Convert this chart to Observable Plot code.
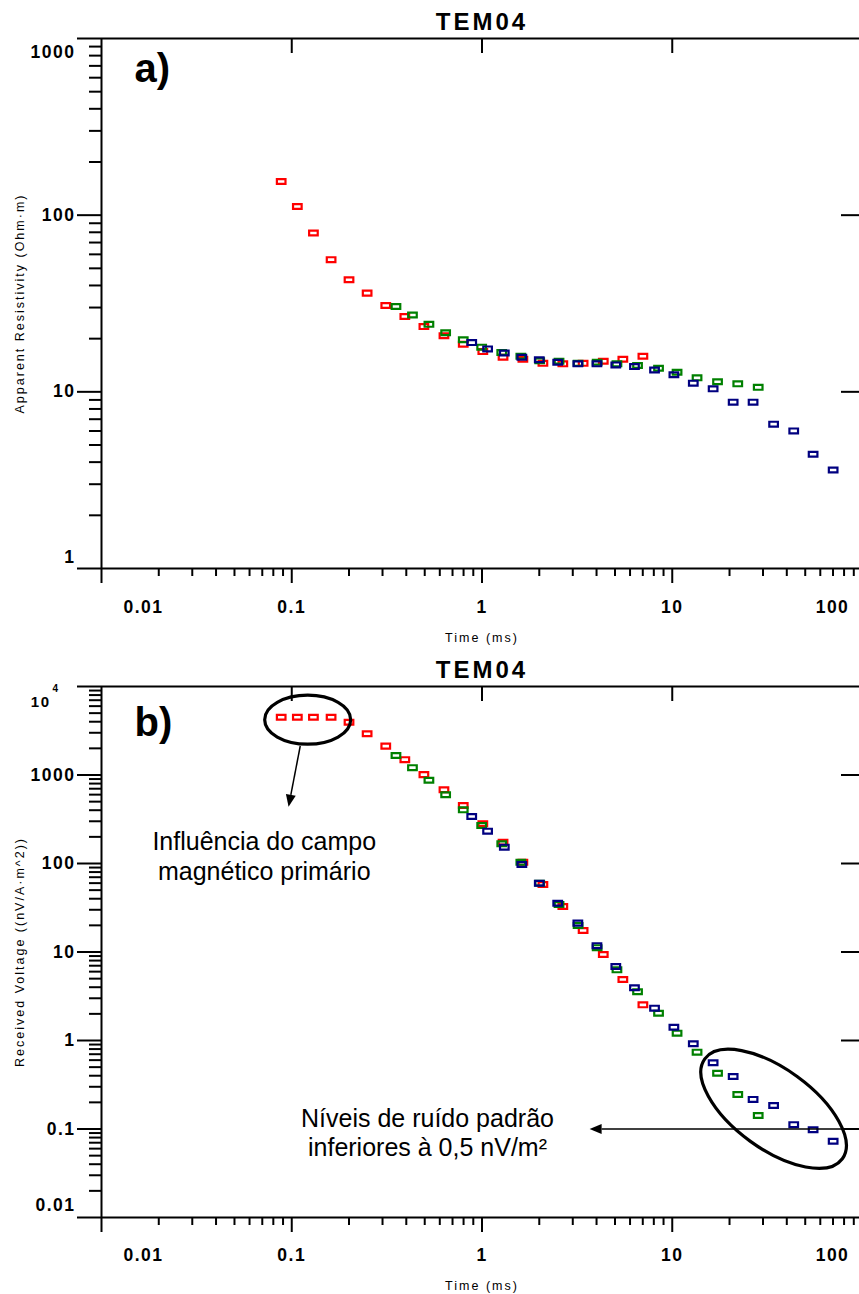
<!DOCTYPE html>
<html>
<head>
<meta charset="utf-8">
<script src="https://cdn.jsdelivr.net/npm/d3@7"></script>
<script src="https://cdn.jsdelivr.net/npm/@observablehq/plot@0.6"></script>
<style>
  html, body { margin: 0; padding: 0; background: #fff; overflow: hidden; }
  #chart svg { display: block; }
</style>
</head>
<body>
<div id="chart"></div>
<script>
// Gate times (ms) of the three soundings
const timeRed   = [0.088, 0.107, 0.130, 0.161, 0.200, 0.249, 0.312, 0.393, 0.495, 0.631, 0.797, 1.01, 1.29, 1.64, 2.09, 2.66, 3.40, 4.34, 5.50, 7.01];
const timeGreen = [0.353, 0.431, 0.526, 0.644, 0.797, 0.996, 1.27, 1.60, 2.01, 2.54, 3.20, 4.03, 5.12, 6.57, 8.47, 10.6, 13.5, 17.3, 22.1, 28.3];
const timeNavy  = [0.883, 1.07, 1.31, 1.62, 2.00, 2.50, 3.19, 4.02, 5.05, 6.33, 8.07, 10.2, 12.9, 16.4, 20.9, 26.6, 34.1, 43.5, 55.0, 70.1];

// a) apparent resistivity (Ohm·m)
const rhoRed   = [155, 112, 79.3, 56.0, 43.1, 36.2, 30.8, 26.7, 23.4, 20.8, 18.6, 16.9, 15.7, 15.3, 14.5, 14.4, 14.5, 14.9, 15.3, 15.9];
const rhoGreen = [30.4, 27.2, 24.1, 21.6, 19.7, 17.9, 16.7, 15.9, 15.0, 14.9, 14.5, 14.7, 14.4, 14.1, 13.6, 12.9, 12.0, 11.4, 11.1, 10.6];
const rhoNavy  = [19.0, 17.5, 16.6, 15.7, 15.2, 14.7, 14.4, 14.4, 14.2, 13.9, 13.3, 12.5, 11.2, 10.4, 8.74, 8.74, 6.56, 6.01, 4.43, 3.61];

// b) received voltage (nV/A·m^2)
const voltRed   = [4500, 4500, 4500, 4500, 3950, 2920, 2120, 1490, 1010, 681, 452, 281, 174, 103, 57.9, 32.7, 17.5, 9.37, 4.89, 2.53];
const voltGreen = [1660, 1210, 873, 598, 404, 269, 167, 103, 59.9, 34.4, 19.9, 11.2, 6.29, 3.55, 2.03, 1.21, 0.738, 0.427, 0.245, 0.142];
const voltNavy  = [340, 232, 153, 97.4, 59.9, 35.6, 21.2, 11.8, 6.86, 3.94, 2.32, 1.41, 0.918, 0.560, 0.392, 0.216, 0.184, 0.112, 0.098, 0.0728];

const seriesColors = ["#ff0000", "#008000", "#000080"];

// Axis ticks and labels
const xTicks = [0.01, 0.1, 1, 10, 100];
const xTickLabels = ["0.01", "0.1", "1", "10", "100"];
const yTicksA = [1, 10, 100, 1000];
const yTickLabelsA = ["1", "10", "100", "1000"];
const yTicksB = [0.01, 0.1, 1, 10, 100, 1000, 10000];
const yTickLabelsB = ["0.01", "0.1", "1", "10", "100", "1000", "10^4"];

const chartTitle = "TEM04";
const xTitle = "Time (ms)";
const yTitleA = "Apparent Resistivity (Ohm·m)";
const yTitleB = "Received Voltage ((nV/A·m^2))";

// Annotations of panel b
const noteText  = ["Influência do campo\nmagnético primário", "Níveis de ruído padrão\ninferiores à 0,5 nV/m²"];
const noteTime  = [0.0717, 0.517];
const noteValue = [242, 0.184];
const ringTime  = [0.122, 34.3];
const ringValue = [4160, 0.167];
const ringShape = [[43, 24.5, 0], [85, 40, 36]]; // rx, ry (px), rotation (deg)
const arrowFrom = [[0.1115, 2100], [100, 0.099]];
const arrowTo   = [[0.0968, 433], [3.70, 0.099]];

const FONT = "'Liberation Sans', Arial, Helvetica, sans-serif";

// Open rectangle marker
const box = {
  draw(context, size) {
    const r = Math.sqrt(size / Math.PI);
    const w = r, h = r * 0.56;
    context.moveTo(-w, -h);
    context.lineTo(w, -h);
    context.lineTo(w, h);
    context.lineTo(-w, h);
    context.closePath();
  }
};

function logMinors(lo, hi) {
  const out = [];
  for (let e = Math.round(Math.log10(lo)); e < Math.round(Math.log10(hi)); e++)
    for (let k = 2; k <= 9; k++) out.push(+(k * Math.pow(10, e)).toPrecision(3));
  return out;
}

const last = (a) => a[a.length - 1];

function panel({height, marginTop, yTicks, yTickLabels, yTitle, tag, tagDy, xLabelDy, xTitleDy, values, topLabelDy, bottomLabelDy, extra = []}) {
  const width = 859, marginLeft = 101, marginRight = -3, marginBottom = 77;
  const frameW = width - marginLeft - marginRight;
  const frameH = height - marginTop - marginBottom;
  const tickFont = {fontFamily: FONT, fontSize: 17.5, fontWeight: "bold"};
  const yRows = yTicks.map((v, i) => ({v, label: yTickLabels[i]}));
  const xRows = xTicks.map((v, i) => ({v, label: xTickLabels[i]}));
  const topRow = last(yRows);
  const [base, exponent] = topRow.label.split("^");
  const yLabelOpts = {y: "v", text: "label", frameAnchor: "left", textAnchor: "end", dx: -26, ...tickFont};
  const xLabelOpts = {x: "v", text: "label", frameAnchor: "bottom", lineAnchor: "middle", dy: xLabelDy, ...tickFont};

  const times = [timeRed, timeGreen, timeNavy];
  const dots = values.map((vals, s) =>
    Plot.dot(times[s].map((t, i) => ({t, v: vals[i]})), {
      x: "t", y: "v", symbol: box, r: 4.3, stroke: seriesColors[s], strokeWidth: 2.2, fill: "none"
    })
  );

  const svg = Plot.plot({
    width, height, marginTop, marginRight, marginBottom, marginLeft,
    x: {type: "log", domain: [xTicks[0], last(xTicks)]},
    y: {type: "log", domain: [yTicks[0], last(yTicks)]},
    style: {fontFamily: FONT, background: "white", color: "black"},
    marks: [
      // frame lines
      Plot.ruleX([xTicks[0]], {strokeWidth: 2}),
      Plot.ruleY([yTicks[0], last(yTicks)], {strokeWidth: 2}),
      // outer ticks
      Plot.axisY(yTicks, {anchor: "left", tickSize: 24, strokeWidth: 2, tickFormat: () => "", label: null}),
      Plot.axisY(logMinors(yTicks[0], last(yTicks)), {anchor: "left", tickSize: 12, strokeWidth: 2, tickFormat: () => "", label: null}),
      Plot.axisX(xTicks, {anchor: "bottom", tickSize: 15, strokeWidth: 2, tickFormat: () => "", label: null}),
      Plot.axisX(logMinors(xTicks[0], last(xTicks)), {anchor: "bottom", tickSize: 8, strokeWidth: 2, tickFormat: () => "", label: null}),
      // inner ticks on the top and right edges
      Plot.tickX(xTicks.slice(1, -1), {x: (d) => d, insetBottom: frameH - 15, strokeWidth: 2}),
      Plot.tickY(yTicks.slice(1, -1), {y: (d) => d, insetLeft: frameW - 21, strokeWidth: 2}),
      // tick labels
      Plot.text(yRows.slice(1, -1), yLabelOpts),
      Plot.text([yRows[0]], {...yLabelOpts, dy: bottomLabelDy}),
      exponent
        ? Plot.text([topRow], {...yLabelOpts, text: () => base, fontSize: 15, dx: -51, dy: topLabelDy})
        : Plot.text([topRow], {...yLabelOpts, dy: topLabelDy}),
      exponent
        ? Plot.text([topRow], {...yLabelOpts, text: () => exponent, textAnchor: "start", fontSize: 10, dx: -49, dy: 2})
        : null,
      Plot.text(xRows.slice(1, -1), xLabelOpts),
      Plot.text([xRows[0]], {...xLabelOpts, dx: 42}),
      Plot.text([last(xRows)], {...xLabelOpts, dx: -30}),
      // titles
      Plot.text([chartTitle], {text: (d) => d, frameAnchor: "top", lineAnchor: "bottom", dy: -9, fontSize: 24, fontWeight: "bold"}),
      Plot.text([xTitle], {text: (d) => d, frameAnchor: "bottom", lineAnchor: "middle", dy: xTitleDy, fontSize: 12.5}),
      Plot.text([yTitle], {text: (d) => d, frameAnchor: "left", rotate: -90, textAnchor: "middle", lineAnchor: "bottom", dx: -78, fontSize: 12.5}),
      Plot.text([tag], {text: (d) => d, frameAnchor: "top-left", textAnchor: "start", lineAnchor: "top", dx: 33, dy: tagDy, fontSize: 40, fontWeight: "bold"}),
      ...dots,
      ...extra
    ]
  });

  // widen the letter spacing of titles and tick labels
  const tickStrings = new Set([...xTickLabels, ...yTickLabels, base, exponent].filter(Boolean));
  d3.select(svg).selectAll("text").each(function () {
    const s = this.textContent;
    if (s === chartTitle) this.style.letterSpacing = "3px";
    else if (s === xTitle || s === yTitle) this.style.letterSpacing = "2px";
    else if (tickStrings.has(s)) this.style.letterSpacing = "1.5px";
  });
  return svg;
}

const plotA = panel({
  height: 645, marginTop: 38,
  yTicks: yTicksA, yTickLabels: yTickLabelsA, yTitle: yTitleA,
  tag: "a)", tagDy: 15, xLabelDy: 39, xTitleDy: 69,
  topLabelDy: 14, bottomLabelDy: -11,
  values: [rhoRed, rhoGreen, rhoNavy]
});

const plotB = panel({
  height: 649, marginTop: 41,
  yTicks: yTicksB, yTickLabels: yTickLabelsB, yTitle: yTitleB,
  tag: "b)", tagDy: 21, xLabelDy: 38, xTitleDy: 68,
  topLabelDy: 16, bottomLabelDy: -12,
  values: [voltRed, voltGreen, voltNavy],
  extra: [
    Plot.text(noteText.map((text, i) => ({text, t: noteTime[i], v: noteValue[i]})), {
      x: "t", y: "v", text: "text", textAnchor: "middle", lineAnchor: "top",
      lineHeight: 1.18, fontSize: 25, fontFamily: FONT
    })
  ]
});

// Ellipses and arrows placed through the panel's scales
function annotate(svg) {
  const sx = svg.scale("x"), sy = svg.scale("y");
  const g = d3.select(svg).append("g").attr("fill", "none").attr("stroke", "black");
  ringTime.forEach((t, i) => {
    const [rx, ry, rot] = ringShape[i];
    g.append("ellipse")
      .attr("rx", rx).attr("ry", ry)
      .attr("transform", `translate(${sx.apply(t)},${sy.apply(ringValue[i])}) rotate(${rot})`)
      .attr("stroke-width", 3.2);
  });
  arrowFrom.forEach(([t1, v1], i) => {
    const [t2, v2] = arrowTo[i];
    const x1 = sx.apply(t1), y1 = sy.apply(v1), x2 = sx.apply(t2), y2 = sy.apply(v2);
    const len = Math.hypot(x2 - x1, y2 - y1);
    const ux = (x2 - x1) / len, uy = (y2 - y1) / len;
    const L = 12, W = 5;
    const bx = x2 - ux * L, by = y2 - uy * L;
    g.append("line")
      .attr("x1", x1).attr("y1", y1).attr("x2", bx).attr("y2", by)
      .attr("stroke-width", 1.5);
    g.append("path")
      .attr("d", `M${x2},${y2}L${bx - uy * W},${by + ux * W}L${bx + uy * W},${by - ux * W}Z`)
      .attr("fill", "black").attr("stroke", "none");
  });
}
annotate(plotB);

const root = document.getElementById("chart");
root.append(plotA, plotB);
</script>
</body>
</html>
